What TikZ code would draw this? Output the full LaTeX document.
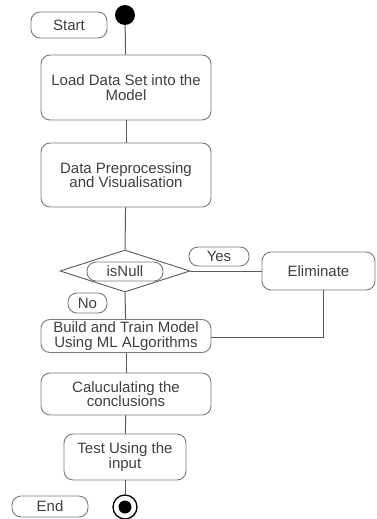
\documentclass[tikz,border=0pt]{standalone}
\usepackage{fontspec}
\setmainfont{Liberation Sans}
\usetikzlibrary{shapes.geometric}
\definecolor{inkgray}{HTML}{404040}
\definecolor{edgegray}{HTML}{7A7A7A}
\definecolor{linegray}{HTML}{5A5A5A}
\tikzset{
  every node/.style={font=\fontsize{15}{14.5}\selectfont, text=inkgray},
  action/.style={draw=edgegray, line width=0.9pt, rounded corners=9pt, fill=white,
    align=center, inner sep=0pt},
  tag/.style={draw=edgegray, line width=0.9pt, rounded corners=9pt, fill=white,
    inner sep=0pt},
  choice/.style={draw=linegray, line width=0.9pt, diamond, inner sep=0pt, fill=white},
  flow/.style={draw=linegray, line width=1pt},
}
\begin{document}
\begin{tikzpicture}[x=1pt, y=-1pt]
\useasboundingbox (0,0) rectangle (376,519);

% initial and final states
\node[circle, fill=black, minimum size=20pt, inner sep=0pt] (init) at (125,15) {};
\node[circle, draw=black, line width=1.3pt, fill=white, minimum size=24pt, inner sep=0pt] (final) at (125,507) {};
\node[circle, fill=black, minimum size=13pt, inner sep=0pt] (finaldot) at (125,507) {};

% activities
\node[action, minimum width=170pt, minimum height=65pt] (load) at (126,87.5)
  {Load Data Set into the\\Model};
\node[action, minimum width=170pt, minimum height=64pt] (prep) at (126,175)
  {Data Preprocessing\\and Visualisation};
\node[choice, minimum width=130pt, minimum height=42pt] (check) at (125,271) {};
\node[action, minimum width=113pt, minimum height=38pt] (elim) at (318.5,271) {Eliminate};
\node[action, minimum width=170pt, minimum height=33pt] (build) at (126,336)
  {Build and Train Model\\Using ML ALgorithms};
\node[action, minimum width=170pt, minimum height=42pt] (calc) at (126,394)
  {Caluculating the\\conclusions};
\node[action, minimum width=122pt, minimum height=46pt] (test) at (125,457)
  {Test Using the\\input};

% labels
\node[tag, minimum width=76pt, minimum height=26pt] (start) at (69,25) {Start};
\node[tag, minimum width=76pt, minimum height=21pt] (end) at (50,506.5) {End};
\node[tag, minimum width=76pt, minimum height=19pt] (isnull) at (125,271.5) {isNull};
\node[tag, minimum width=60pt, minimum height=19pt] (yes) at (219,256.5) {Yes};
\node[tag, minimum width=39pt, minimum height=20pt] (no) at (87.5,303) {No};

% control flow
\draw[flow] (init) -- (load);
\draw[flow] (load) -- (prep);
\draw[flow] (prep) -- (check.north);
\draw[flow] (check.south) -- (build);
\draw[flow] (check.east) -- (elim.west);
\coordinate (elimturn) at (323,337);
\draw[flow] (elim.south -| elimturn) -- (elimturn) -- (build.east |- elimturn);
\draw[flow] (build) -- (calc);
\draw[flow] (calc) -- (test);
\draw[flow] (test) -- (final);
\end{tikzpicture}
\end{document}
